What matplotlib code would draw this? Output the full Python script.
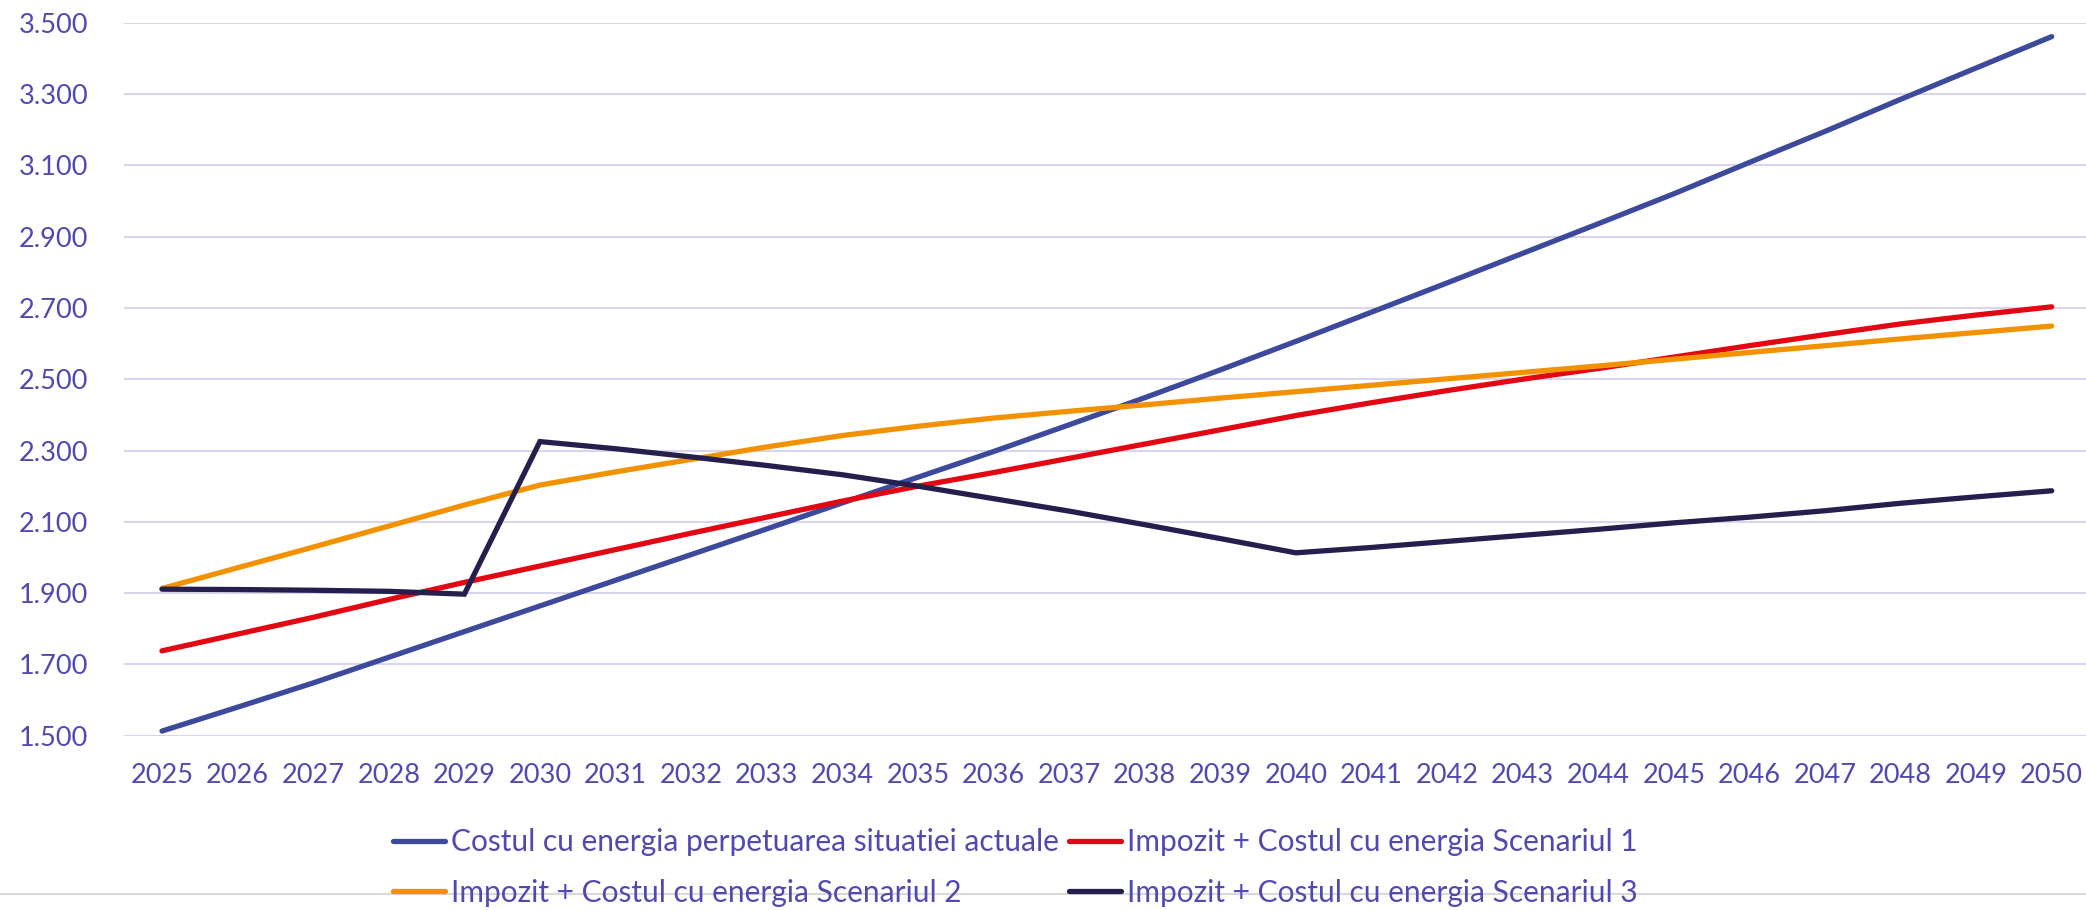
import matplotlib
matplotlib.use("Agg")
import matplotlib.pyplot as plt
from matplotlib.lines import Line2D
from matplotlib.ticker import FuncFormatter

# annual cost series, 2025-2050
years = list(range(2025, 2051))

cost_current = [1513, 1580, 1648, 1720, 1792, 1864, 1936, 2008, 2080, 2153,
                2225, 2297, 2372, 2448, 2526, 2606, 2688, 2770, 2853, 2936,
                3020, 3108, 3195, 3285, 3373, 3461]
scen1 = [1738, 1785, 1832, 1882, 1930, 1976, 2022, 2068, 2113, 2158,
         2200, 2238, 2278, 2318, 2358, 2398, 2434, 2468, 2500, 2530,
         2562, 2594, 2625, 2655, 2680, 2703]
scen2 = [1913, 1971, 2029, 2088, 2147, 2203, 2240, 2275, 2310, 2342,
         2368, 2391, 2410, 2428, 2447, 2465, 2483, 2501, 2519, 2537,
         2556, 2575, 2594, 2613, 2631, 2649]
scen3 = [1911, 1910, 1908, 1905, 1897, 2325, 2305, 2282, 2258, 2232,
         2200, 2165, 2130, 2092, 2053, 2013, 2028, 2045, 2062, 2079,
         2097, 2113, 2131, 2152, 2170, 2187]

labels = [
    "Costul cu energia perpetuarea situatiei actuale",
    "Impozit + Costul cu energia Scenariul 1",
    "Impozit + Costul cu energia Scenariul 2",
    "Impozit + Costul cu energia Scenariul 3",
]
colors = ["#3d4a9c", "#e30613", "#f39200", "#251f4e"]
y_ticks = [1500, 1700, 1900, 2100, 2300, 2500, 2700, 2900, 3100, 3300, 3500]

text_col = "#5249b0"
plt.rcParams["font.family"] = ["Lato", "DejaVu Sans"]

W, H = 2086, 910
fig = plt.figure(figsize=(W / 100, H / 100), dpi=100)
ax = fig.add_axes([124.2 / W, 1 - 735.7 / H, (2089.5 - 124.2) / W, (735.7 - 22.7) / H])

lines = []
for vals, c, lab in zip([cost_current, scen1, scen2, scen3], colors, labels):
    ln, = ax.plot(years, vals, color=c, lw=3.8, solid_capstyle="round",
                  solid_joinstyle="miter", label=lab)
    lines.append(ln)

ax.set_xlim(2024.5, 2050.5)
ax.set_ylim(1500, 3500)
ax.set_xticks(years)
ax.set_yticks(y_ticks)
ax.yaxis.set_major_formatter(FuncFormatter(lambda v, p: f"{int(v):,}".replace(",", ".")))
ax.grid(axis="y", color="#d9d5ec", lw=1.5)
ax.set_axisbelow(True)
for s in ax.spines.values():
    s.set_visible(False)
ax.tick_params(length=0, labelsize=19.5, labelcolor=text_col)
ax.tick_params(axis="y", pad=26)
ax.tick_params(axis="x", pad=20)
for t in ax.get_xticklabels() + ax.get_yticklabels():
    t.set_clip_on(False)

# thin rule across the bottom of the chart
fig.add_artist(Line2D([0, 1], [1 - 894 / H, 1 - 894 / H], transform=fig.transFigure,
                      color="#d9d9d9", lw=1.5, zorder=0))

order = [0, 2, 1, 3]
fig.legend([lines[i] for i in order], [labels[i] for i in order],
           loc="upper left", bbox_to_anchor=(393 / W, 1 - 828 / H), ncol=2,
           frameon=False, fontsize=21.5, labelcolor=text_col,
           handlelength=1.74, handletextpad=0.2, columnspacing=0.33,
           labelspacing=0.76, borderpad=0, borderaxespad=0)

fig.savefig("out.png", dpi=100)
